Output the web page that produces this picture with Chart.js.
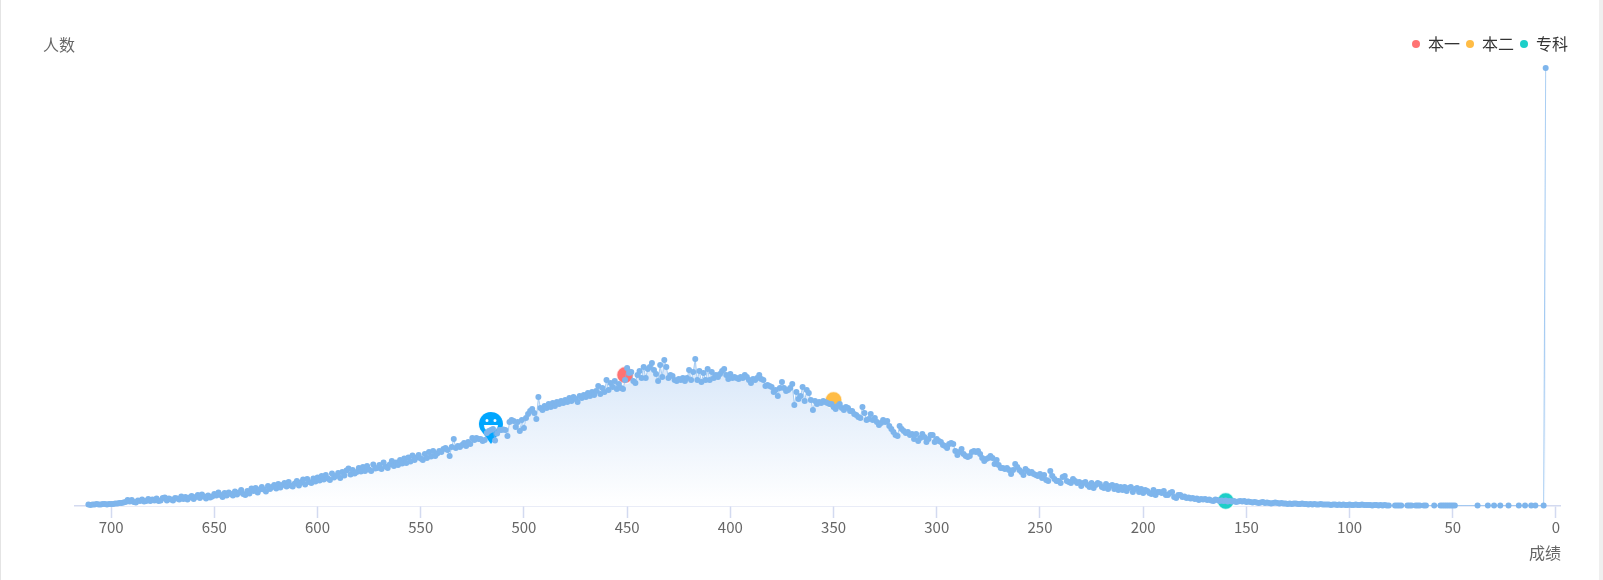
<!DOCTYPE html>
<html>
<head>
<meta charset="utf-8">
<title>成绩分布</title>
<script src="https://cdn.jsdelivr.net/npm/chart.js@4/dist/chart.umd.min.js"></script>
<style>
    html, body { margin: 0; padding: 0; background: #fff; overflow: hidden; }
    #wrap { position: relative; width: 1603px; height: 580px; box-sizing: border-box; border-left: 1px solid #e4e4e4; border-right: 4px solid #efefef; }
    #grafico { position: absolute; left: -1px; top: 0; }
</style>
</head>
<body>
<div id="wrap"><canvas id="grafico" width="1603" height="580"></canvas></div>
<script>
const tickValues = [700, 650, 600, 550, 500, 450, 400, 350, 300, 250, 200, 150, 100, 50, 0];

const scores = [
    711, 710, 709, 708, 707, 706, 705, 704, 703, 702,
    701, 700, 699, 698, 697, 696, 695, 694, 693, 692,
    691, 690, 689, 688, 687, 686, 685, 684, 683, 682,
    681, 680, 679, 678, 677, 676, 675, 674, 673, 672,
    671, 670, 669, 668, 667, 666, 665, 664, 663, 662,
    661, 660, 659, 658, 657, 656, 655, 654, 653, 652,
    651, 650, 649, 648, 647, 646, 645, 644, 643, 642,
    641, 640, 639, 638, 637, 636, 635, 634, 633, 632,
    631, 630, 629, 628, 627, 626, 625, 624, 623, 622,
    621, 620, 619, 618, 617, 616, 615, 614, 613, 612,
    611, 610, 609, 608, 607, 606, 605, 604, 603, 602,
    601, 600, 599, 598, 597, 596, 595, 594, 593, 592,
    591, 590, 589, 588, 587, 586, 585, 584, 583, 582,
    581, 580, 579, 578, 577, 576, 575, 574, 573, 572,
    571, 570, 569, 568, 567, 566, 565, 564, 563, 562,
    561, 560, 559, 558, 557, 556, 555, 554, 553, 552,
    551, 550, 549, 548, 547, 546, 545, 544, 543, 542,
    541, 540, 539, 538, 537, 536, 535, 534, 533, 532,
    531, 530, 529, 528, 527, 526, 525, 524, 523, 522,
    521, 520, 519, 518, 517, 516, 515, 514, 513, 512,
    511, 510, 509, 508, 507, 506, 505, 504, 503, 502,
    501, 500, 499, 498, 497, 496, 495, 494, 493, 492,
    491, 490, 489, 488, 487, 486, 485, 484, 483, 482,
    481, 480, 479, 478, 477, 476, 475, 474, 473, 472,
    471, 470, 469, 468, 467, 466, 465, 464, 463, 462,
    461, 460, 459, 458, 457, 456, 455, 454, 453, 452,
    451, 450, 449, 448, 447, 446, 445, 444, 443, 442,
    441, 440, 439, 438, 437, 436, 435, 434, 433, 432,
    431, 430, 429, 428, 427, 426, 425, 424, 423, 422,
    421, 420, 419, 418, 417, 416, 415, 414, 413, 412,
    411, 410, 409, 408, 407, 406, 405, 404, 403, 402,
    401, 400, 399, 398, 397, 396, 395, 394, 393, 392,
    391, 390, 389, 388, 387, 386, 385, 384, 383, 382,
    381, 380, 379, 378, 377, 376, 375, 374, 373, 372,
    371, 370, 369, 368, 367, 366, 365, 364, 363, 362,
    361, 360, 359, 358, 357, 356, 355, 354, 353, 352,
    351, 350, 349, 348, 347, 346, 345, 344, 343, 342,
    341, 340, 339, 338, 337, 336, 335, 334, 333, 332,
    331, 330, 329, 328, 327, 326, 325, 324, 323, 322,
    321, 320, 319, 318, 317, 316, 315, 314, 313, 312,
    311, 310, 309, 308, 307, 306, 305, 304, 303, 302,
    301, 300, 299, 298, 297, 296, 295, 294, 293, 292,
    291, 290, 289, 288, 287, 286, 285, 284, 283, 282,
    281, 280, 279, 278, 277, 276, 275, 274, 273, 272,
    271, 270, 269, 268, 267, 266, 265, 264, 263, 262,
    261, 260, 259, 258, 257, 256, 255, 254, 253, 252,
    251, 250, 249, 248, 247, 246, 245, 244, 243, 242,
    241, 240, 239, 238, 237, 236, 235, 234, 233, 232,
    231, 230, 229, 228, 227, 226, 225, 224, 223, 222,
    221, 220, 219, 218, 217, 216, 215, 214, 213, 212,
    211, 210, 209, 208, 207, 206, 205, 204, 203, 202,
    201, 200, 199, 198, 197, 196, 195, 194, 193, 192,
    191, 190, 189, 188, 187, 186, 185, 184, 183, 182,
    181, 180, 179, 178, 177, 176, 175, 174, 173, 172,
    171, 170, 169, 168, 167, 166, 165, 164, 163, 162,
    161, 160, 159, 158, 157, 156, 155, 154, 153, 152,
    151, 150, 149, 148, 147, 146, 145, 144, 143, 142,
    141, 140, 139, 138, 137, 136, 135, 134, 133, 132,
    131, 130, 129, 128, 127, 126, 125, 124, 123, 122,
    121, 120, 119, 118, 117, 116, 115, 114, 113, 112,
    111, 110, 109, 108, 107, 106, 105, 104, 103, 102,
    101, 100, 99, 98, 97, 96, 95, 94, 93, 92,
    91, 90, 89, 88, 87, 86, 85, 84, 83, 82,
    81, 78, 77, 76, 75, 72, 71, 70, 68, 67, 66, 64, 63, 59, 56, 55, 54, 53, 52, 51, 50, 49,
    38, 33, 30, 27, 23, 18, 15, 12, 10, 6, 5
];

const counts = [
    3, 2, 3, 3, 4, 3, 3, 4, 4, 3,
    4, 4, 4, 5, 5, 6, 6, 7, 8, 12,
    9, 12, 8, 7, 11, 10, 13, 9, 10, 14,
    10, 13, 11, 15, 10, 11, 16, 17, 11, 15,
    13, 11, 16, 15, 13, 19, 14, 18, 13, 17,
    20, 14, 18, 22, 16, 23, 19, 15, 21, 17,
    19, 24, 21, 27, 22, 18, 26, 21, 27, 24,
    21, 29, 23, 27, 32, 24, 22, 30, 25, 35,
    30, 36, 27, 33, 38, 33, 29, 40, 34, 38,
    42, 35, 44, 37, 42, 46, 39, 48, 41, 39,
    45, 50, 41, 47, 53, 43, 54, 48, 46, 55,
    49, 57, 51, 60, 53, 62, 55, 52, 65, 57,
    60, 66, 56, 68, 61, 71, 75, 63, 72, 65,
    68, 76, 69, 78, 70, 80, 73, 70, 83, 75,
    76, 82, 74, 87, 79, 76, 83, 90, 80, 87,
    82, 92, 85, 95, 86, 97, 89, 101, 92, 97,
    102, 95, 92, 104, 96, 108, 99, 110, 100, 105,
    110, 108, 114, 116, 112, 100, 118, 134, 116, 120,
    118, 122, 126, 120, 128, 124, 136, 132, 136, 134,
    134, 130, 132, 146, 150, 152, 154, 131, 145, 152,
    152, 153, 152, 140, 168, 172, 170, 158, 168, 150,
    172, 156, 176, 184, 190, 194, 186, 174, 218, 196,
    192, 200, 196, 204, 198, 206, 200, 208, 204, 210,
    206, 212, 208, 216, 210, 218, 214, 208, 220, 216,
    222, 218, 226, 220, 228, 222, 230, 240, 224, 236,
    228, 252, 232, 246, 238, 250, 234, 244, 236, 234,
    252, 276, 266, 268, 250, 246, 262, 270, 256, 278,
    256, 274, 278, 286, 272, 264, 250, 282, 258, 292,
    278, 256, 262, 260, 252, 250, 254, 252, 256, 250,
    256, 272, 252, 268, 294, 252, 270, 248, 266, 252,
    274, 252, 268, 256, 262, 258, 264, 270, 274, 262,
    254, 264, 256, 258, 256, 254, 258, 256, 262, 258,
    252, 246, 254, 252, 256, 262, 254, 252, 240, 242,
    240, 238, 228, 232, 220, 236, 248, 236, 230, 232,
    236, 244, 202, 228, 214, 220, 238, 210, 232, 226,
    212, 192, 210, 204, 208, 206, 210, 208, 206, 204,
    204, 198, 194, 200, 204, 196, 192, 198, 196, 190,
    190, 184, 182, 178, 176, 198, 186, 172, 174, 184,
    172, 176, 168, 162, 166, 172, 168, 170, 160, 154,
    148, 142, 140, 160, 154, 150, 146, 148, 142, 144,
    134, 144, 130, 136, 144, 138, 128, 134, 142, 142,
    128, 134, 130, 128, 122, 120, 116, 124, 126, 124,
    110, 102, 108, 114, 104, 100, 98, 100, 108, 110,
    108, 110, 104, 96, 90, 94, 96, 100, 96, 84,
    92, 82, 76, 76, 74, 76, 72, 64, 72, 84,
    78, 72, 68, 62, 74, 70, 66, 68, 64, 62,
    60, 64, 56, 62, 52, 50, 70, 60, 54, 50,
    50, 46, 58, 60, 50, 48, 46, 54, 50, 46,
    48, 40, 46, 48, 42, 38, 46, 36, 42, 46,
    44, 38, 36, 44, 34, 40, 42, 34, 40, 32,
    38, 32, 38, 30, 36, 38, 28, 34, 36, 28,
    34, 26, 32, 30, 26, 24, 32, 22, 28, 28,
    26, 30, 22, 22, 26, 28, 18, 16, 22, 22,
    18, 19, 16, 17, 15, 16, 14, 15, 12, 14,
    13, 14, 12, 13, 11, 10, 13, 12, 10, 11,
    10, 11, 9, 10, 9, 10, 8, 9, 10, 9,
    10, 8, 9, 8, 7, 8, 7, 6, 7, 8,
    6, 7, 6, 5, 6, 7, 6, 5, 6, 5,
    5, 4, 5, 4, 5, 5, 4, 4, 5, 4,
    4, 3, 4, 3, 4, 3, 3, 4, 3, 3,
    3, 3, 2, 3, 3, 2, 3, 2, 3, 2,
    2, 3, 2, 2, 3, 2, 2, 3, 2, 2,
    2, 2, 1, 2, 2, 1, 2, 1, 2, 1,
    1, 1, 1, 1, 1, 1, 1, 1, 1, 1, 1, 1, 1, 1, 1, 1, 1, 1, 1, 1, 1, 1,
    1, 1, 1, 1, 1, 1, 1, 1, 1, 1, 876
];

// linhas de corte
const cutNames = ["本一", "本二", "专科"];
const cutScores = [451, 350, 160];
const cutCounts = [262, 212, 10];
const cutColors = ["#ff7373", "#ffbc45", "#1ccfc8"];

const myScore = [516];
const myCount = [124];

const yMax = 928;

// marcador azul: a ponta fica no centro do canvas
function makePin() {
    const c = document.createElement("canvas");
    c.width = 26;
    c.height = 66;
    const g = c.getContext("2d");
    g.fillStyle = "#00a6ff";
    g.beginPath();
    g.arc(13, 13, 12, Math.PI * 0.85, Math.PI * 0.15);
    g.lineTo(13, 33);
    g.closePath();
    g.fill();
    g.fillStyle = "#fff";
    g.beginPath();
    g.arc(9, 9.5, 1.5, 0, Math.PI * 2);
    g.arc(17, 9.5, 1.5, 0, Math.PI * 2);
    g.fill();
    g.beginPath();
    g.arc(13, 14, 7, 0, Math.PI);
    g.closePath();
    g.fill();
    return c;
}

const points = scores.map(function (s, i) {
    return { x: s, y: counts[i] };
});

const cutSets = cutNames.map(function (name, i) {
    return {
        label: name,
        data: [{ x: cutScores[i], y: cutCounts[i] }],
        showLine: false,
        backgroundColor: cutColors[i],
        pointBackgroundColor: cutColors[i],
        pointBorderColor: "rgba(255,255,255,0.7)",
        pointBorderWidth: 1.5,
        pointRadius: 8.5,
        clip: false
    };
});

const framePlugin = {
    id: "framePlugin",
    afterLayout: function (chart) {
        // legenda acima do grafico, sem mexer na area
        const l = chart.legend;
        l.left += 14;
        l.right += 14;
        l.top = 30;
        l.bottom = 60;
    },
    afterDraw: function (chart) {
        const g = chart.ctx;
        g.save();
        g.font = '16px "Noto Sans CJK SC"';
        g.fillStyle = "#666";
        g.textBaseline = "middle";
        g.fillText("人数", 43, 45);
        g.textAlign = "right";
        g.fillText("成绩", 1561, 553);
        g.restore();
    }
};

new Chart(document.getElementById("grafico"), {
    type: "line",
    data: {
        datasets: [{
            label: "",
            data: points,
            borderColor: "rgba(126,182,236,0.65)",
            borderWidth: 1,
            tension: 0,
            pointRadius: 3,
            pointBorderWidth: 0,
            pointBackgroundColor: "#7eb5ec",
            clip: false,
            fill: "origin",
            backgroundColor: function (c) {
                const y = c.chart.scales.y;
                if (!y) return "#fff";
                const grad = c.chart.ctx.createLinearGradient(0, y.getPixelForValue(290), 0, y.getPixelForValue(0));
                grad.addColorStop(0, "#d8e7f9");
                grad.addColorStop(1, "#ffffff");
                return grad;
            }
        }].concat(cutSets, [{
            label: "pin",
            data: [{ x: myScore[0], y: myCount[0] }],
            showLine: false,
            pointStyle: makePin(),
            clip: false
        }])
    },
    options: {
        responsive: false,
        animation: false,
        layout: { padding: { left: 75, right: 43, top: 10, bottom: 44 } },
        plugins: {
            filler: { drawTime: "beforeDatasetsDraw" },
            tooltip: { enabled: false },
            legend: {
                position: "top",
                align: "end",
                labels: {
                    usePointStyle: true,
                    pointStyle: "circle",
                    boxHeight: 5.7,
                    pointStyleWidth: 8,
                    padding: 6,
                    color: "#333",
                    font: { size: 16, family: '"Noto Sans CJK SC"' },
                    generateLabels: function (chart) {
                        return Chart.defaults.plugins.legend.labels.generateLabels(chart).map(function (item) {
                            item.lineWidth = 0;
                            return item;
                        });
                    },
                    filter: function (item) {
                        return cutNames.includes(item.text);
                    }
                }
            }
        },
        scales: {
            x: {
                type: "linear",
                reverse: true,
                min: -1.94,
                max: 717.5,
                afterBuildTicks: function (scale) {
                    scale.ticks = tickValues.map(function (v) { return { value: v }; });
                },
                border: { color: "#d3daf0", width: 1.5 },
                grid: { drawOnChartArea: false, tickLength: 12, color: "#d3daf0", tickWidth: 1.5 },
                ticks: {
                    color: "#666",
                    padding: 0,
                    autoSkip: false,
                    maxRotation: 0,
                    font: { size: 15, family: '"Noto Sans CJK SC"' }
                }
            },
            y: {
                display: false,
                min: 0,
                max: yMax
            }
        }
    },
    plugins: [framePlugin]
});
</script>
</body>
</html>
